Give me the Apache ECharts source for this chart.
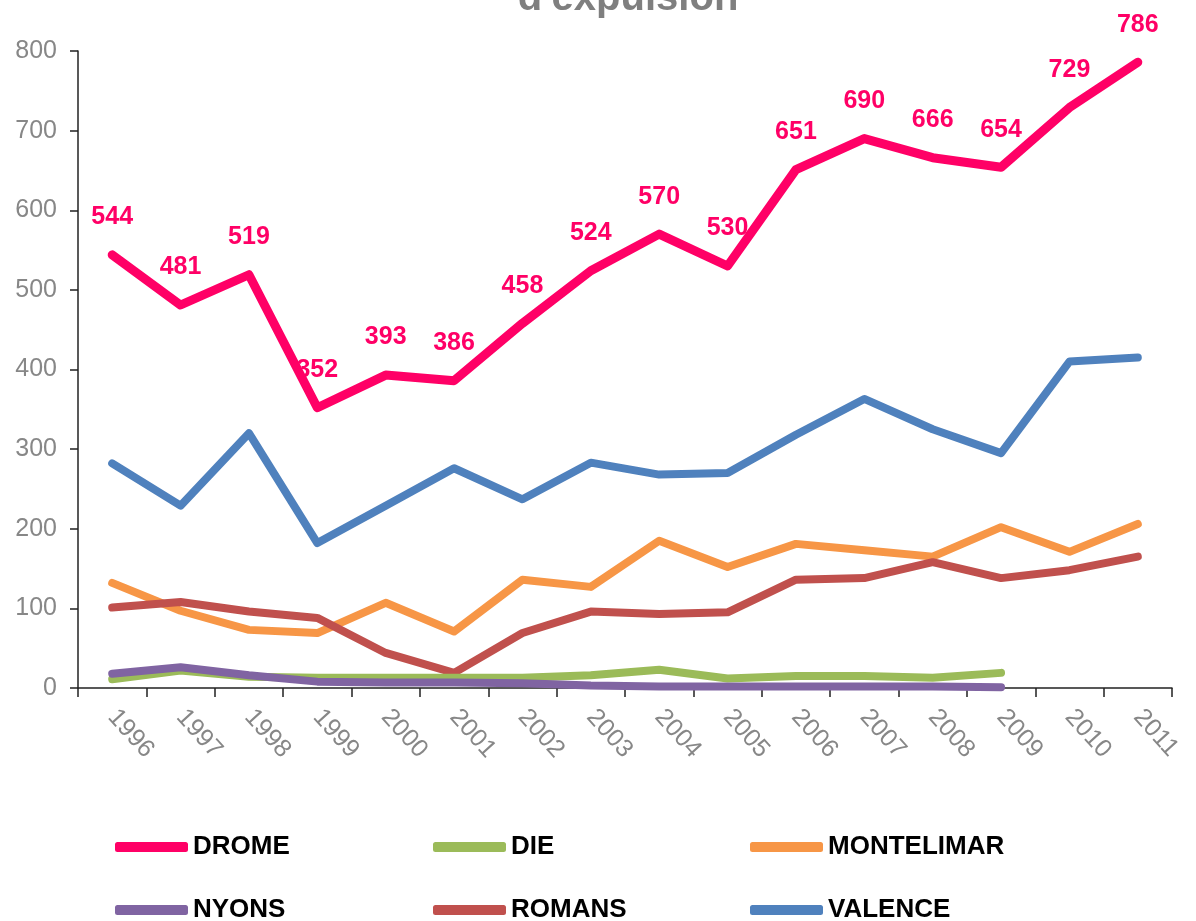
<!DOCTYPE html>
<html>
<head>
<meta charset="utf-8">
<script src="https://cdn.jsdelivr.net/npm/echarts@6/dist/echarts.min.js"></script>
<style>
  html, body { margin: 0; padding: 0; background: #fff; }
  #chart { width: 1196px; height: 921px; }
</style>
</head>
<body>
<div id="chart"></div>
<script>
// années (axe x)
var years = ['1996', '1997', '1998', '1999', '2000', '2001', '2002', '2003',
             '2004', '2005', '2006', '2007', '2008', '2009', '2010', '2011'];

// valeurs
var drome      = [544, 481, 519, 352, 393, 386, 458, 524, 570, 530, 651, 690, 666, 654, 729, 786];
var die        = [11, 22, 14, 13, 13, 13, 13, 16, 23, 12, 15, 15, 13, 19, null, null];
var montelimar = [132, 97, 73, 69, 107, 71, 136, 127, 185, 152, 181, 173, 165, 202, 171, 206];
var nyons      = [18, 26, 16, 8, 7, 7, 6, 3, 2, 2, 2, 2, 2, 1, null, null];
var romans     = [101, 108, 96, 88, 44, 19, 69, 96, 93, 95, 136, 138, 158, 138, 148, 165];
var valence    = [282, 229, 320, 182, 229, 276, 237, 283, 268, 270, 318, 363, 325, 295, 410, 415];

var yTicks = { min: 0, max: 800, step: 100 };

// ordre de la légende (3 colonnes x 2 lignes)
var legendNames = ['DROME', 'DIE', 'MONTELIMAR', 'NYONS', 'ROMANS', 'VALENCE'];

var myChart = echarts.init(document.getElementById('chart'));

var grayTxt = '#878787';
var fontFam = '"Liberation Sans", Arial, sans-serif';

function lineSerie(name, data, color) {
  return {
    name: name,
    type: 'line',
    data: data,
    symbol: 'none',
    connectNulls: false,
    lineStyle: { width: 8, color: color, cap: 'round', join: 'round' },
    itemStyle: { color: color }
  };
}

// une légende par entrée pour garder les colonnes alignées
var legendCols = [115, 433, 750];
var legendRows = [834, 897];
var legends = legendNames.map(function (n, i) {
  return {
    data: [n],
    left: legendCols[i % 3],
    top: legendRows[Math.floor(i / 3)],
    icon: 'roundRect',
    itemWidth: 73,
    itemHeight: 10,
    itemGap: 0,
    padding: 0,
    textStyle: {
      fontFamily: fontFam,
      fontWeight: 'bold',
      fontSize: 26,
      color: '#000'
    }
  };
});

var option = {
  animation: false,
  backgroundColor: '#fff',
  graphic: [{
    type: 'text',
    style: {
      text: "d'expulsion",
      x: 628,
      y: 19,
      align: 'center',
      verticalAlign: 'bottom',
      font: 'bold 40px ' + fontFam,
      fill: '#7f7f7f'
    }
  }],
  grid: {
    left: 78,
    right: 24,
    top: 51,
    bottom: 233,
    outerBoundsMode: 'none'
  },
  legend: legends,
  xAxis: {
    type: 'category',
    data: years,
    boundaryGap: true,
    axisLine: { lineStyle: { color: '#222', width: 1.5 } },
    axisTick: { show: true, length: 9, lineStyle: { color: '#222', width: 1.5 } },
    axisLabel: {
      interval: 0,
      rotate: -48,
      margin: 25,
      color: grayTxt,
      fontSize: 25,
      fontFamily: fontFam
    },
    splitLine: { show: false }
  },
  yAxis: {
    type: 'value',
    min: yTicks.min,
    max: yTicks.max,
    interval: yTicks.step,
    axisLine: { show: true, lineStyle: { color: '#222', width: 1.5 } },
    axisTick: { show: true, length: 8, lineStyle: { color: '#222', width: 1.5 } },
    axisLabel: {
      margin: 21,
      color: grayTxt,
      fontSize: 25,
      fontFamily: fontFam
    },
    splitLine: { show: false }
  },
  series: [
    lineSerie('VALENCE', valence, '#4f81bd'),
    lineSerie('MONTELIMAR', montelimar, '#f79646'),
    lineSerie('ROMANS', romans, '#c0504d'),
    lineSerie('DIE', die, '#9bbb59'),
    lineSerie('NYONS', nyons, '#8064a2'),
    {
      name: 'DROME',
      type: 'line',
      data: drome,
      showSymbol: true,
      symbol: 'circle',
      symbolSize: 2,
      lineStyle: { width: 9, color: '#ff0066', cap: 'round', join: 'round' },
      itemStyle: { color: '#ff0066' },
      label: {
        show: true,
        position: 'top',
        distance: 24,
        color: '#ff0066',
        fontWeight: 'bold',
        fontSize: 25,
        fontFamily: fontFam
      }
    }
  ]
};

myChart.setOption(option);
</script>
</body>
</html>
